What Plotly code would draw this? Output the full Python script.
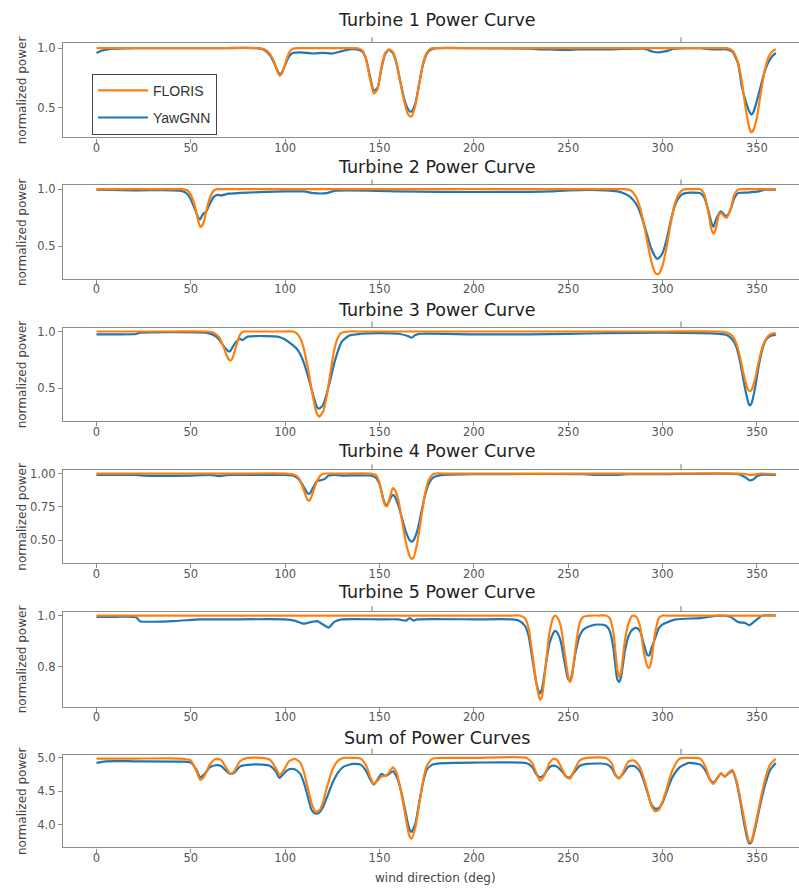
import plotly.graph_objects as go

# ---------------- data ----------------
x1 = [0, 3, 6, 20, 60, 85, 89, 92, 94, 96, 97, 98, 100, 102, 104, 108, 115, 120, 125, 130, 134, 138,
      141, 143, 145, 147, 149, 151, 153, 155, 157, 159, 161, 163, 165, 166, 167, 169, 171, 173, 175, 177,
      180, 200, 230, 236, 240, 250, 255, 270, 290, 295, 298, 302, 306, 320, 326, 330,
      334, 337, 340, 342, 344, 346, 347, 348, 350, 352, 354, 356, 358, 360]
floris1 = [1.0, 1.0, 1.0, 1.0, 1.0, 1.0, 0.99, 0.95, 0.89, 0.80, 0.77, 0.78, 0.87, 0.96, 0.995, 1.0, 1.0, 1.0, 1.0, 1.0, 1.0, 1.0,
           0.98, 0.90, 0.74, 0.62, 0.66, 0.84, 0.96, 0.99, 0.97, 0.88, 0.72, 0.56, 0.45, 0.43, 0.43, 0.52, 0.70, 0.87, 0.96, 0.995,
           1.0, 1.0, 1.0, 1.0, 1.0, 1.0, 1.0, 1.0, 1.0, 1.0, 1.0, 1.0, 1.0, 1.0, 1.0, 1.0,
           1.0, 0.98, 0.88, 0.72, 0.50, 0.33, 0.295, 0.31, 0.42, 0.62, 0.80, 0.92, 0.97, 0.99]
yawgnn1 = [0.96, 0.98, 0.99, 1.0, 1.0, 1.0, 0.985, 0.94, 0.88, 0.81, 0.785, 0.79, 0.86, 0.93, 0.96, 0.965, 0.955, 0.96, 0.955, 0.975, 0.99, 0.99,
           0.97, 0.90, 0.76, 0.645, 0.67, 0.83, 0.95, 0.985, 0.96, 0.87, 0.72, 0.58, 0.49, 0.47, 0.47, 0.54, 0.70, 0.86, 0.95, 0.985,
           1.0, 1.0, 0.995, 0.99, 0.99, 0.985, 0.99, 0.99, 0.995, 0.97, 0.965, 0.975, 0.995, 1.0, 0.99, 0.99,
           0.99, 0.97, 0.87, 0.68, 0.56, 0.47, 0.445, 0.46, 0.56, 0.68, 0.80, 0.88, 0.93, 0.96]

x2 = [0, 20, 40, 45, 48, 50, 52, 54, 55, 56, 57, 58, 60, 62, 64, 66, 70, 80, 100, 110, 115, 122, 126, 150, 160, 200,
      240, 250, 270, 276, 280, 283, 286, 288, 290, 292, 294, 296, 297, 298, 300, 302, 304, 306, 308, 310, 312, 315,
      320, 322, 324, 326, 327, 328, 330, 331, 333, 334, 336, 338, 340, 345, 351, 354, 360]
floris2 = [1.0, 1.0, 1.0, 1.0, 0.99, 0.95, 0.86, 0.72, 0.67, 0.68, 0.72, 0.80, 0.92, 0.985, 1.0, 1.0, 1.0, 1.0, 1.0, 1.0, 1.0, 1.0, 1.0, 1.0, 1.0, 1.0,
           1.0, 1.0, 1.0, 1.0, 1.0, 0.99, 0.93, 0.84, 0.70, 0.53, 0.37, 0.27, 0.255, 0.26, 0.33, 0.48, 0.67, 0.84, 0.94, 0.985, 1.0, 1.0,
           1.0, 0.96, 0.82, 0.64, 0.61, 0.64, 0.78, 0.79, 0.755, 0.75, 0.82, 0.95, 0.995, 1.0, 1.0, 1.0, 1.0]
yawgnn2 = [0.995, 0.99, 0.99, 0.985, 0.96, 0.91, 0.83, 0.75, 0.735, 0.77, 0.79, 0.80, 0.87, 0.93, 0.95, 0.945, 0.96, 0.97, 0.98, 0.98, 0.965, 0.965, 0.985, 0.985, 0.98, 0.975,
           0.98, 0.99, 0.99, 0.98, 0.96, 0.93, 0.87, 0.80, 0.70, 0.59, 0.48, 0.41, 0.39, 0.395, 0.44, 0.55, 0.70, 0.83, 0.91, 0.95, 0.965, 0.97,
           0.965, 0.93, 0.83, 0.70, 0.67, 0.72, 0.79, 0.805, 0.77, 0.765, 0.82, 0.92, 0.965, 0.97, 0.98, 0.995, 0.995]

x3 = [0, 10, 21, 23, 40, 58, 62, 65, 67, 69, 70, 71, 72, 74, 76, 77, 78, 80, 90, 96, 100, 104, 106, 108, 110, 112, 114,
      116, 117, 118, 120, 122, 124, 126, 128, 130, 134, 140, 150, 160, 165, 167, 169, 172, 200, 230, 250, 270, 300,
      330, 334, 337, 339, 341, 343, 345, 346, 347, 349, 351, 353, 355, 357, 360]
floris3 = [1.0, 1.0, 1.0, 1.0, 1.0, 1.0, 0.99, 0.95, 0.88, 0.79, 0.755, 0.745, 0.76, 0.87, 0.97, 0.99, 1.0, 1.0, 1.0, 1.0, 1.0, 1.0, 0.985, 0.94, 0.84, 0.68, 0.49,
           0.32, 0.27, 0.25, 0.29, 0.43, 0.64, 0.84, 0.95, 0.99, 1.0, 1.0, 1.0, 1.0, 1.0, 1.0, 1.0, 1.0, 1.0, 1.0, 1.0, 1.0, 1.0,
           1.0, 0.99, 0.96, 0.90, 0.78, 0.62, 0.50, 0.475, 0.48, 0.58, 0.74, 0.87, 0.94, 0.975, 0.985]
yawgnn3 = [0.975, 0.975, 0.978, 0.99, 0.995, 0.99, 0.97, 0.93, 0.88, 0.84, 0.825, 0.83, 0.86, 0.91, 0.935, 0.925, 0.93, 0.955, 0.96, 0.955, 0.93, 0.88, 0.85, 0.80, 0.72, 0.61, 0.49,
           0.37, 0.33, 0.32, 0.35, 0.45, 0.58, 0.72, 0.83, 0.91, 0.965, 0.98, 0.985, 0.98, 0.96, 0.945, 0.97, 0.98, 0.975, 0.975, 0.98, 0.985, 0.99,
           0.98, 0.97, 0.93, 0.87, 0.74, 0.56, 0.40, 0.35, 0.36, 0.50, 0.70, 0.85, 0.93, 0.96, 0.97]

x4 = [0, 20, 25, 50, 60, 65, 70, 80, 100, 104, 107, 109, 111, 112, 113, 115, 117, 119, 121, 123, 126, 130, 145, 148,
      150, 152, 153, 154, 156, 157, 158, 160, 162, 164, 166, 167, 168, 170, 172, 174, 176, 178, 180, 184, 200,
      258, 265, 275, 282, 300, 340, 344, 346, 348, 350, 352, 360]
floris4 = [1.0, 1.0, 1.0, 1.0, 1.0, 1.0, 1.0, 1.0, 1.0, 0.995, 0.97, 0.91, 0.83, 0.80, 0.80, 0.87, 0.95, 0.99, 1.0, 1.0, 1.0, 1.0, 1.0, 0.99,
           0.93, 0.80, 0.76, 0.755, 0.85, 0.89, 0.88, 0.80, 0.64, 0.48, 0.38, 0.36, 0.37, 0.48, 0.66, 0.84, 0.95, 0.99, 1.0, 1.0, 1.0,
           1.0, 1.0, 1.0, 1.0, 1.0, 1.0, 0.995, 0.99, 0.99, 0.995, 1.0, 0.995]
yawgnn4 = [0.99, 0.99, 0.985, 0.985, 0.99, 0.98, 0.99, 0.99, 0.99, 0.985, 0.96, 0.92, 0.87, 0.85, 0.85, 0.90, 0.945, 0.95, 0.96, 0.985, 0.99, 0.985, 0.985, 0.97,
           0.92, 0.81, 0.77, 0.765, 0.82, 0.84, 0.83, 0.76, 0.66, 0.56, 0.50, 0.49, 0.50, 0.57, 0.70, 0.83, 0.92, 0.965, 0.98, 0.99, 0.995,
           0.995, 0.99, 0.99, 0.995, 0.995, 0.995, 0.97, 0.95, 0.955, 0.98, 0.99, 0.99]

x5 = [0, 10, 21, 23, 40, 55, 70, 100, 105, 110, 114, 117, 120, 123, 126, 130, 150, 160, 164, 166, 168, 170, 200, 220,
      224, 227, 229, 231, 233, 234, 235, 236, 238, 240, 242, 243, 244, 246, 248, 250, 251, 252, 254, 256, 258, 262, 266,
      270, 272, 274, 276, 277, 278, 280, 282, 284, 286, 288, 290, 292, 293, 294, 296, 298, 300, 302, 307, 320, 330,
      336, 340, 344, 346, 350, 353, 360]
floris5 = [1.0, 1.0, 1.0, 1.0, 1.0, 1.0, 1.0, 1.0, 1.0, 1.0, 1.0, 1.0, 1.0, 1.0, 1.0, 1.0, 1.0, 1.0, 1.0, 1.0, 1.0, 1.0, 1.0, 1.0,
           1.0, 0.99, 0.95, 0.85, 0.74, 0.70, 0.67, 0.68, 0.80, 0.93, 0.99, 1.0, 0.995, 0.96, 0.86, 0.76, 0.74, 0.76, 0.88, 0.97, 0.995, 1.0, 1.0,
           1.0, 0.99, 0.93, 0.79, 0.76, 0.78, 0.90, 0.97, 1.0, 0.995, 0.96, 0.86, 0.80, 0.795, 0.82, 0.93, 0.99, 1.0, 1.0, 1.0, 1.0, 1.0,
           1.0, 1.0, 1.0, 1.0, 1.0, 1.0, 1.0]
yawgnn5 = [0.995, 0.995, 0.993, 0.978, 0.978, 0.985, 0.985, 0.985, 0.98, 0.968, 0.975, 0.978, 0.965, 0.953, 0.975, 0.985, 0.985, 0.985, 0.98, 0.99, 0.98, 0.985, 0.985, 0.985,
           0.98, 0.96, 0.92, 0.83, 0.74, 0.71, 0.695, 0.71, 0.80, 0.89, 0.93, 0.94, 0.935, 0.90, 0.82, 0.75, 0.745, 0.77, 0.86, 0.92, 0.945, 0.96, 0.965,
           0.96, 0.94, 0.87, 0.75, 0.74, 0.76, 0.86, 0.92, 0.945, 0.952, 0.94, 0.89, 0.845, 0.845, 0.87, 0.91, 0.95, 0.965, 0.972, 0.985, 0.99, 1.0,
           0.995, 0.975, 0.97, 0.962, 0.985, 1.0, 1.0]

x6 = [0, 5, 20, 45, 50, 53, 55, 57, 60, 63, 66, 69, 71, 73, 76, 80, 88, 92, 95, 97, 99, 102, 105, 108, 110, 112, 114,
      116, 118, 120, 122, 125, 128, 131, 136, 140, 143, 145, 147, 149, 151, 153, 155, 157, 159, 161, 163, 165, 166,
      167, 169, 171, 173, 175, 178, 182, 200, 228, 231, 233, 235, 237, 240, 242, 244, 247, 249, 251, 253, 256, 260,
      270, 273, 275, 277, 279, 282, 285, 288, 290, 292, 294, 296, 298, 300, 302, 305, 309, 314, 320, 323, 325, 327,
      329, 331, 333, 335, 337, 339, 341, 343, 345, 346, 347, 349, 351, 353, 355, 357, 360]
floris6 = [4.99, 4.99, 4.99, 4.99, 4.96, 4.80, 4.67, 4.72, 4.90, 4.985, 4.97, 4.84, 4.76, 4.80, 4.95, 5.0, 5.0, 4.97, 4.85, 4.75, 4.80, 4.95, 4.985, 4.93, 4.78, 4.55, 4.32,
           4.20, 4.21, 4.33, 4.55, 4.82, 4.96, 5.0, 5.0, 4.99, 4.88, 4.72, 4.61, 4.66, 4.72, 4.73, 4.78, 4.86, 4.78, 4.55, 4.25, 3.92, 3.82,
           3.79, 3.96, 4.30, 4.65, 4.88, 4.99, 5.0, 5.0, 5.0, 4.92, 4.78, 4.66, 4.72, 4.92, 4.985, 4.97, 4.82, 4.71, 4.69, 4.80, 4.96, 5.0,
           5.0, 4.92, 4.75, 4.69, 4.78, 4.95, 4.96, 4.86, 4.70, 4.50, 4.29, 4.20, 4.22, 4.35, 4.52, 4.80, 4.99, 5.0, 4.99, 4.85, 4.68, 4.61,
           4.70, 4.77, 4.72, 4.78, 4.82, 4.68, 4.42, 4.12, 3.83, 3.74, 3.75, 3.98, 4.25, 4.52, 4.75, 4.90, 4.985]
yawgnn6 = [4.925, 4.95, 4.95, 4.945, 4.93, 4.82, 4.71, 4.75, 4.86, 4.89, 4.88, 4.80, 4.76, 4.78, 4.87, 4.895, 4.90, 4.88, 4.80, 4.70, 4.76, 4.83, 4.83, 4.76, 4.62, 4.42, 4.22,
           4.165, 4.18, 4.26, 4.40, 4.62, 4.78, 4.87, 4.91, 4.90, 4.80, 4.68, 4.60, 4.68, 4.76, 4.73, 4.76, 4.80, 4.72, 4.55, 4.30, 4.02, 3.92,
           3.89, 4.02, 4.33, 4.62, 4.82, 4.90, 4.92, 4.93, 4.92, 4.86, 4.76, 4.71, 4.74, 4.86, 4.885, 4.87, 4.79, 4.72, 4.71, 4.78, 4.88, 4.91,
           4.91, 4.85, 4.74, 4.70, 4.76, 4.87, 4.88, 4.80, 4.66, 4.48, 4.31, 4.24, 4.25, 4.33, 4.48, 4.70, 4.86, 4.925, 4.90, 4.80, 4.68, 4.63,
           4.70, 4.77, 4.72, 4.77, 4.80, 4.66, 4.38, 4.05, 3.78, 3.716, 3.73, 3.93, 4.20, 4.45, 4.66, 4.82, 4.925]

titles = ["Turbine 1 Power Curve", "Turbine 2 Power Curve", "Turbine 3 Power Curve",
          "Turbine 4 Power Curve", "Turbine 5 Power Curve", "Sum of Power Curves"]
x_ticks = [0, 50, 100, 150, 200, 250, 300, 350]
y_tickvals = [[0.5, 1.0], [0.5, 1.0], [0.5, 1.0], [0.5, 0.75, 1.0], [0.8, 1.0], [4.0, 4.5, 5.0]]
y_ticktext = [["0.5", "1.0"], ["0.5", "1.0"], ["0.5", "1.0"], ["0.50", "0.75", "1.00"], ["0.8", "1.0"], ["4.0", "4.5", "5.0"]]
xs = [x1, x2, x3, x4, x5, x6]
floris = [floris1, floris2, floris3, floris4, floris5, floris6]
yawgnn = [yawgnn1, yawgnn2, yawgnn3, yawgnn4, yawgnn5, yawgnn6]

# ---------------- layout geometry (pixels) ----------------
W, H = 799, 890
LEFT = 63
panel_top = [39.3, 182.3, 325, 468.3, 610.7, 754]
panel_bot = [134, 276, 419, 561.7, 705.7, 847.3]
title_y = [16, 163.5, 307, 449, 591, 737]
y_ranges = [[0.253, 1.042], [0.215, 1.032], [0.21, 1.035], [0.328, 1.025], [0.644, 1.014], [3.657, 5.05]]
x_range = [-17.75, 372.3]

BLUE = "#1f77b4"
ORANGE = "#ff7f0e"
AXC = "#8c8c8c"
TXT = "#555555"
FONT = "DejaVu Sans"
TICKFONT = dict(family=FONT, size=11.5, color=TXT)

fig = go.Figure()
layout = dict(width=W, height=H, margin=dict(l=0, r=0, t=0, b=0),
              paper_bgcolor="white", plot_bgcolor="white", showlegend=True,
              font=dict(family=FONT, size=12, color=TXT))
annotations = []
shapes = []

for i in range(6):
    n = "" if i == 0 else str(i + 1)
    xa = "x" + n
    ya = "y" + n
    xl = "x" + str(7 + i)
    fig.add_trace(go.Scatter(x=xs[i], y=yawgnn[i], mode="lines", name="YawGNN",
                             line=dict(color=BLUE, width=2.2, shape="spline", smoothing=0.6),
                             xaxis=xa, yaxis=ya, showlegend=(i == 0), legendgroup="g2", legendrank=2))
    fig.add_trace(go.Scatter(x=xs[i], y=floris[i], mode="lines", name="FLORIS",
                             line=dict(color=ORANGE, width=2.2, shape="spline", smoothing=0.6),
                             xaxis=xa, yaxis=ya, showlegend=(i == 0), legendgroup="g1", legendrank=1))
    # invisible carrier so the label-only overlay axis gets drawn
    fig.add_trace(go.Scatter(x=xs[i], y=floris[i], mode="lines", opacity=0,
                             line=dict(width=0), hoverinfo="skip", showlegend=False,
                             xaxis=xl, yaxis=ya))
    d0 = 1 - panel_bot[i] / H
    d1 = 1 - panel_top[i] / H
    # main x axis: spines + tick marks
    layout["xaxis" + n] = dict(domain=[LEFT / W, 1.0], range=x_range, anchor=ya,
                               tickvals=x_ticks, showgrid=False, zeroline=False,
                               showline=True, linecolor=AXC, linewidth=1.3, mirror=True,
                               ticks="outside", ticklen=4, tickcolor=AXC, tickwidth=1.2,
                               showticklabels=False)
    # overlay x axis: tick labels only, placed just below the spine
    layout["xaxis" + str(7 + i)] = dict(domain=[LEFT / W, 1.0], range=x_range, anchor="free",
                                        position=d0 - 2 / H, overlaying=xa, side="bottom",
                                        tickvals=x_ticks, showgrid=False, zeroline=False,
                                        showline=False, ticks="", showticklabels=True,
                                        tickfont=TICKFONT)
    layout["yaxis" + n] = dict(domain=[d0, d1], range=y_ranges[i], anchor=xa,
                               tickvals=y_tickvals[i], ticktext=y_ticktext[i],
                               showgrid=False, zeroline=False,
                               showline=True, linecolor=AXC, linewidth=1.3,
                               ticks="outside", ticklen=4, tickcolor=AXC, tickwidth=1.2,
                               tickfont=TICKFONT)
    annotations.append(dict(text=titles[i], x=437 / W, y=1 - title_y[i] / H, xref="paper", yref="paper",
                            xanchor="center", yanchor="middle", showarrow=False,
                            font=dict(family=FONT, size=17.5, color="#222222")))
    annotations.append(dict(text="normalized power", x=22 / W, y=(d0 + d1) / 2, xref="paper", yref="paper",
                            xanchor="center", yanchor="middle", textangle=-90, showarrow=False,
                            font=dict(family=FONT, size=12, color="#444444")))
    for tx in (372, 681):
        shapes.append(dict(type="line", xref="paper", yref="paper", x0=tx / W, x1=tx / W,
                           y0=d1, y1=d1 + 6 / H, line=dict(color=AXC, width=1.2)))

annotations.append(dict(text="wind direction (deg)", x=435 / W, y=1 - 878 / H, xref="paper", yref="paper",
                        xanchor="center", yanchor="middle", showarrow=False,
                        font=dict(family=FONT, size=12, color="#444444")))

layout["annotations"] = annotations
layout["shapes"] = shapes
layout["legend"] = dict(x=92 / W, y=1 - 70 / H, xanchor="left", yanchor="top",
                        bgcolor="white", bordercolor="#444444", borderwidth=1,
                        font=dict(family="Liberation Sans", size=14, color="#333333"),
                        tracegroupgap=6, itemwidth=50)
fig.update_layout(**layout)
fig.write_html("out.html")
